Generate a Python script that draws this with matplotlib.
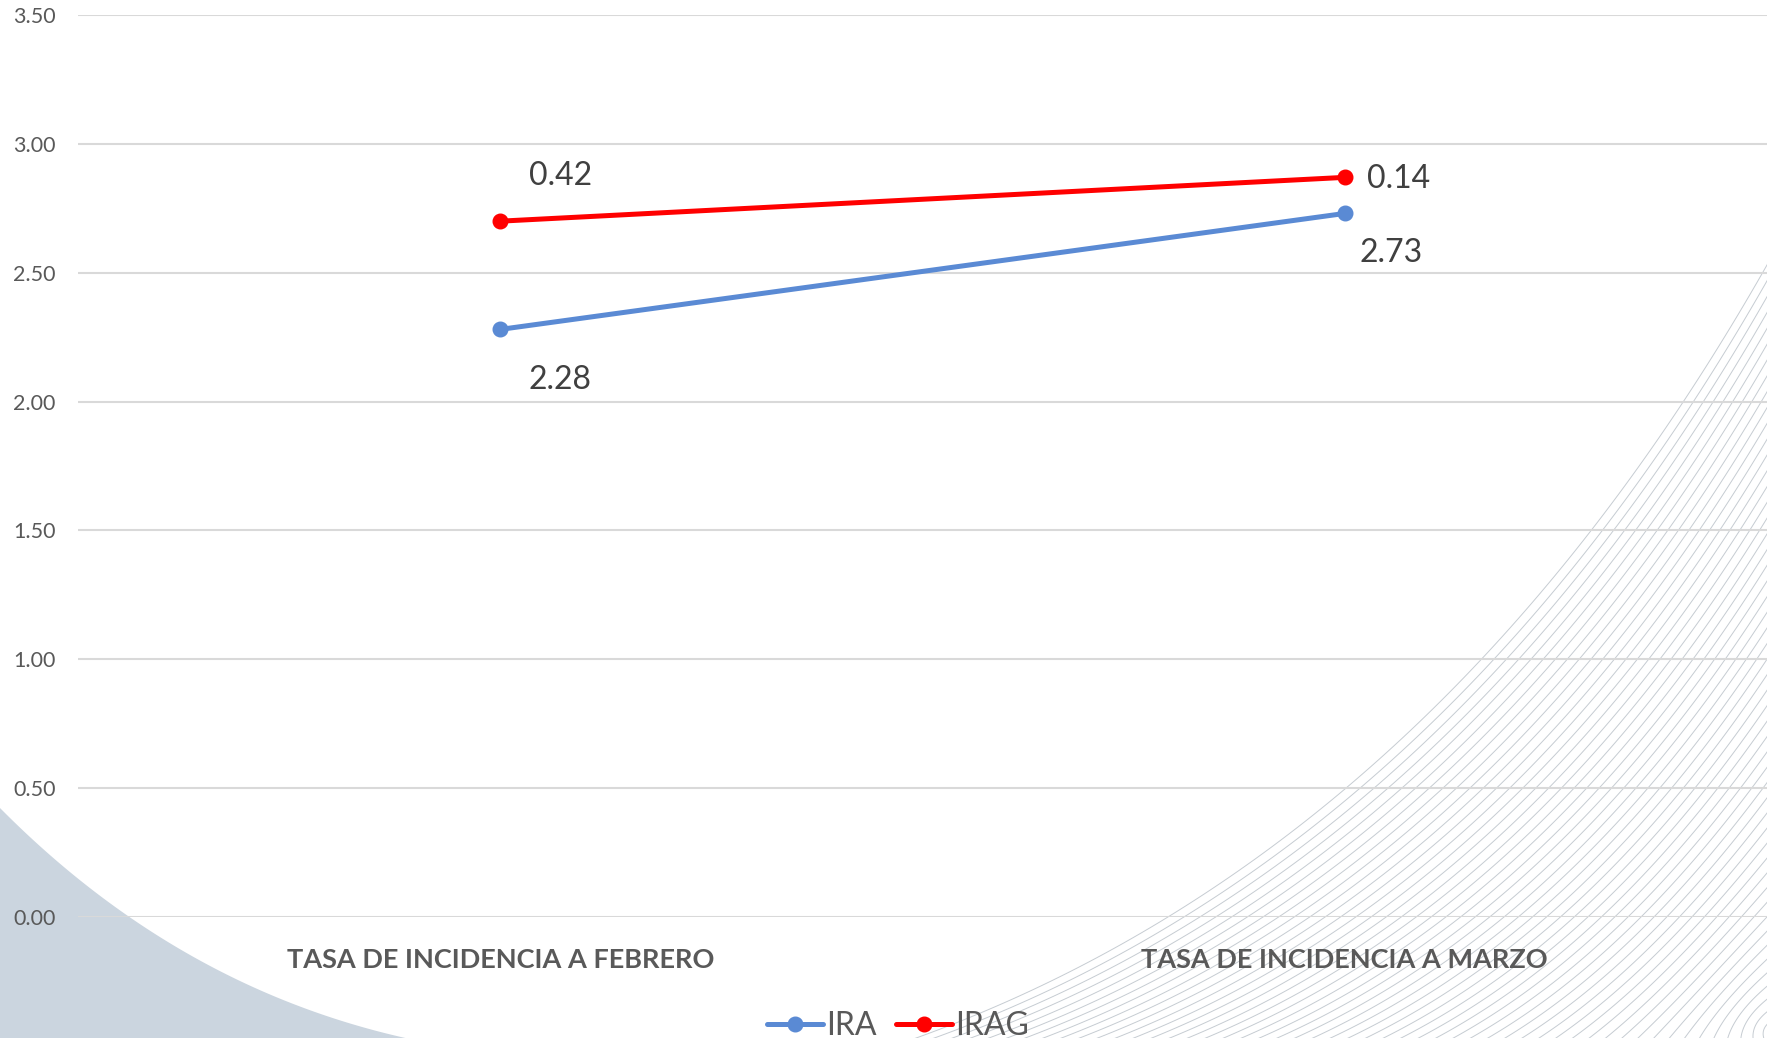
import numpy as np
import matplotlib
matplotlib.use("Agg")
import matplotlib.pyplot as plt

# ---- data ----
categories = ["TASA DE INCIDENCIA A FEBRERO", "TASA DE INCIDENCIA A MARZO"]
ira = [2.28, 2.73]
irag = [0.42, 0.14]
yticks = [0.0, 0.5, 1.0, 1.5, 2.0, 2.5, 3.0, 3.5]

plt.rcParams['font.family'] = ['Lato', 'DejaVu Sans']
W, H = 1767, 1038
fig = plt.figure(figsize=(W / 100, H / 100), dpi=100)

# ---- decorative background (pixel coords) ----
bg = fig.add_axes([0, 0, 1, 1], zorder=0)
bg.set_xlim(0, W)
bg.set_ylim(H, 0)
bg.axis('off')

def bezier(p0, p1, p2, n=120):
    s = np.linspace(0, 1, n)[:, None]
    p0, p1, p2 = map(np.array, (p0, p1, p2))
    return (1 - s) ** 2 * p0 + 2 * (1 - s) * s * p1 + s ** 2 * p2

# grey-blue shape bottom-left
c = bezier((0, 808), (190, 1000), (440, 1045))
poly = np.vstack([[0, 1045], c, [0, 1045]])
bg.fill(poly[:, 0], poly[:, 1], color='#CBD5DF', lw=0)

# fan of thin lines bottom-right
for t in np.linspace(0, 1, 60):
    p0 = (850 + t * 1100, 1060)
    p1 = (1440 + t * 350, 880 + t * 170)
    p2 = (1800, 205 + t * 950)
    b = bezier(p0, p1, p2)
    bg.plot(b[:, 0], b[:, 1], color='#C6CCD2', lw=0.7)

# ---- main chart ----
ax = fig.add_axes([78 / W, 1 - 917 / H, 1 - 78 / W, (917 - 15) / H], zorder=1)
ax.patch.set_alpha(0)
x = np.arange(len(categories))
ira_arr = np.array(ira)
irag_top = ira_arr + np.array(irag)

blue = '#5A8AD4'
red = '#FF0000'
ax.plot(x, ira_arr, color=blue, lw=3.6, marker='o', ms=10.5, label='IRA', zorder=3,
        solid_capstyle='round')
ax.plot(x, irag_top, color=red, lw=3.6, marker='o', ms=10.5, label='IRAG', zorder=3,
        solid_capstyle='round')

ax.set_xlim(-0.5, 1.5)
ax.set_ylim(0, 3.5)
ax.set_yticks(yticks)
ax.set_yticklabels([f"{v:.2f}" for v in yticks])
ax.set_xticks(x)
ax.set_xticklabels(categories, fontweight='bold', fontsize=19.5, color='#595959')
ax.tick_params(axis='y', length=0, pad=16, labelsize=15.5, labelcolor='#595959')
ax.tick_params(axis='x', length=0, pad=22)
ax.grid(axis='y', color='#D9D9D9', lw=1.5)
ax.set_axisbelow(True)
for sp in ax.spines.values():
    sp.set_visible(False)

lab_kw = dict(textcoords='offset pixels', fontsize=23, color='#404040', va='center')
ax.annotate(f"{irag[0]:.2f}", (x[0], irag_top[0]), xytext=(60, 45), ha='center', **lab_kw)
ax.annotate(f"{ira[0]:.2f}", (x[0], ira_arr[0]), xytext=(60, -51), ha='center', **lab_kw)
ax.annotate(f"{irag[1]:.2f}", (x[1], irag_top[1]), xytext=(22, -2), ha='left', **lab_kw)
ax.annotate(f"{ira[1]:.2f}", (x[1], ira_arr[1]), xytext=(46, -40), ha='center', **lab_kw)

leg = fig.legend(loc='center', bbox_to_anchor=(898 / W, 1 - 1026 / H), ncol=2,
                 frameon=False, fontsize=23, handlelength=1.75, handletextpad=0.1,
                 columnspacing=0.6, labelcolor='#595959')

fig.savefig('out.png', dpi=100)
